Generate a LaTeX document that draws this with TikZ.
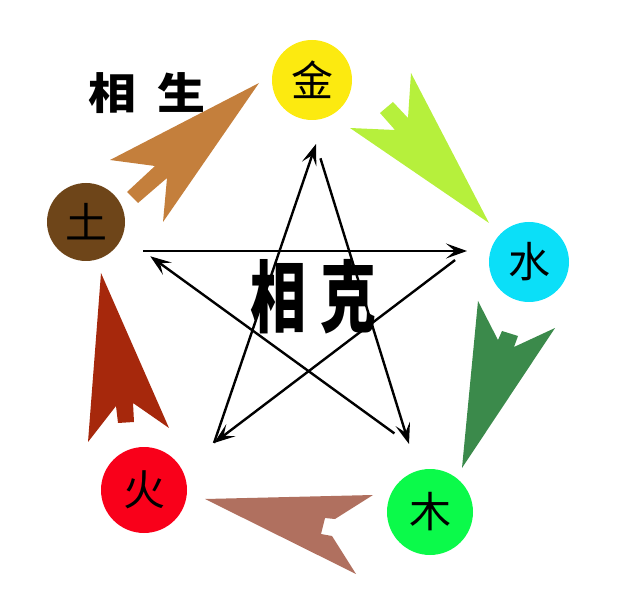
\documentclass[tikz,border=0pt]{standalone}
\usepackage{fontspec}
\newfontfamily\cjk{Noto Sans CJK SC}
\usetikzlibrary{arrows.meta}

\definecolor{jin}{HTML}{FCEA10}
\definecolor{shui}{HTML}{0BDFF8}
\definecolor{mu}{HTML}{0BFA4A}
\definecolor{huo}{HTML}{F9001A}
\definecolor{tu}{HTML}{6E4519}
\definecolor{tuarr}{HTML}{C47F3C}
\definecolor{jinarr}{HTML}{B6F03C}
\definecolor{shuiarr}{HTML}{3B8A4B}
\definecolor{muarr}{HTML}{B0705F}
\definecolor{huoarr}{HTML}{A6280C}

\begin{document}
\begin{tikzpicture}[x=1pt, y=-1pt,
        element/.style = {circle, minimum size=80pt, inner sep=0pt,
                          font=\cjk\fontsize{42}{42}\selectfont},
        ke/.style = {line width=2.4pt, -{Stealth[length=21pt, width=15pt, inset=9pt]}}
    ]
    \useasboundingbox (0,0) rectangle (622,596);

    % five elements
    \node[element, fill=jin] (jin) at (312,80) {金};
    \node[element, fill=shui] (shui) at (529,262) {水};
    \node[element, fill=mu, minimum size=86pt] (mu) at (430,512) {木};
    \node[element, fill=huo, minimum size=86pt] (huo) at (144,490) {火};
    \node[element, fill=tu, minimum size=78pt] (tu) at (86,222) {土};

    % sheng arrows
    \fill[tuarr] (259,83) -- (110,160) -- (155,166) -- (127,192) -- (138,203)
        -- (167,178) -- (163,222) -- cycle;
    \fill[jinarr] (489,223) -- (350,128) -- (395,130) -- (380,113) -- (393,102)
        -- (408,118) -- (411,73) -- cycle;
    \fill[shuiarr] (462,468) -- (478,301) -- (498,340) -- (502,331) -- (518,336)
        -- (514,347) -- (555,328) -- cycle;
    \fill[muarr] (205,499) -- (373,495) -- (335,519) -- (325,518) -- (321,534)
        -- (332,536) -- (356,574) -- cycle;
    \fill[huoarr] (101,273) -- (169,428) -- (133,403) -- (134,422) -- (118,423)
        -- (116,406) -- (88,442) -- cycle;
    \node[font=\cjk\bfseries\fontsize{48}{48}\selectfont, yscale=0.9] (sheng) at (147,93) {相\hspace{22pt}生};

    % ke star
    \coordinate (T) at (316,144);
    \coordinate (L) at (143,251);
    \coordinate (R) at (467,251);
    \coordinate (BL) at (214,443);
    \coordinate (BR) at (409,444);
    \draw[ke] (L) -- (R);
    \draw[ke, shorten <=15pt] (R) -- (BL);
    \draw[ke] (BL) -- (T);
    \draw[ke, shorten <=15pt] (T) -- (BR);
    \draw[ke, shorten <=18pt, shorten >=9pt] (BR) -- (L);
    \node[font=\cjk\bfseries\fontsize{56}{56}\selectfont, yscale=1.4] (kelabel) at (313,297) {相\hspace{14pt}克};
\end{tikzpicture}
\end{document}
